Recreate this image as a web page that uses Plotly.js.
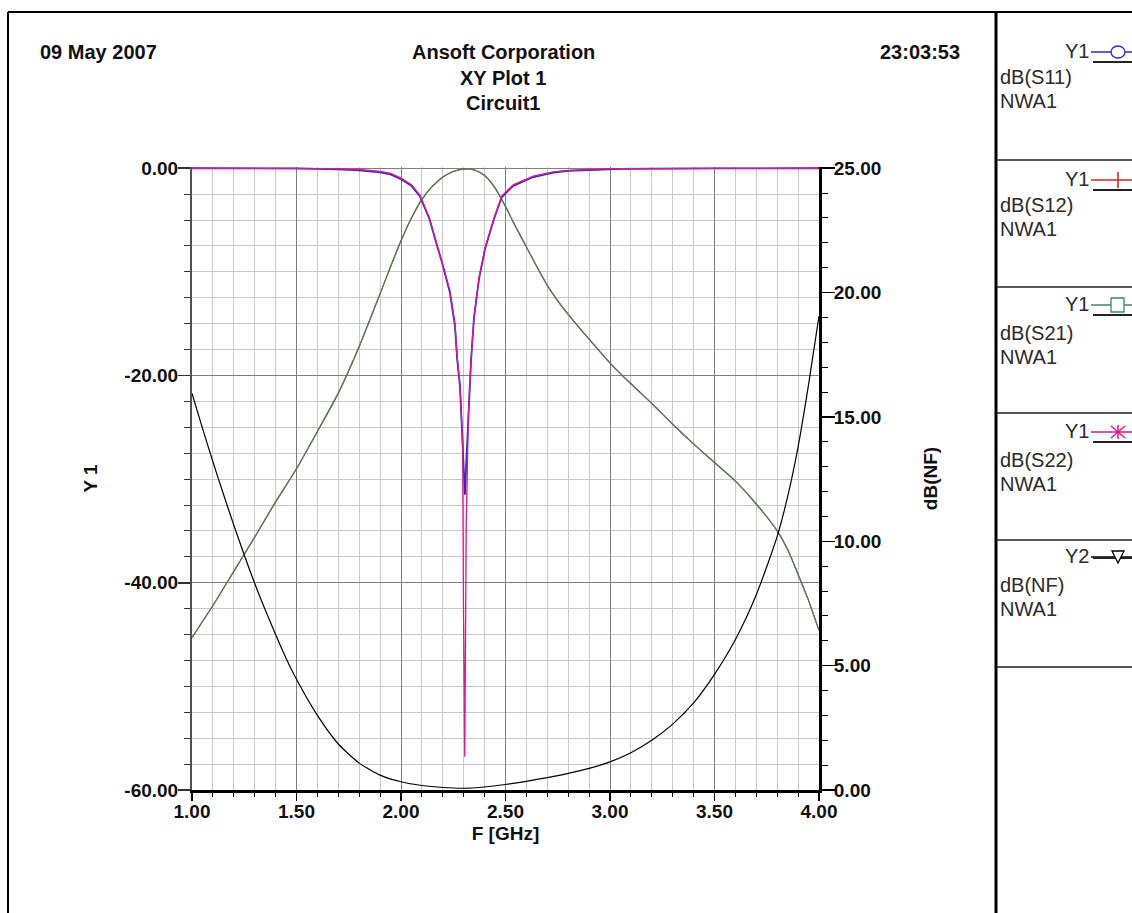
<!DOCTYPE html>
<html>
<head>
<meta charset="utf-8">
<script src="https://cdn.plot.ly/plotly-3.0.1.min.js"></script>
<style>
  html, body { margin: 0; padding: 0; background: #ffffff; }
  #chart { width: 1132px; height: 913px; }
</style>
</head>
<body>
<div id="chart"></div>
<script>
// ---- Sweep data (frequency in GHz) ----
// dB(S22), left axis Y1
const freqS22 = [1.00, 1.50, 1.70, 1.80, 1.90, 1.95, 2.00, 2.05, 2.09, 2.136, 2.167, 2.195, 2.234, 2.258, 2.269, 2.282, 2.290, 2.295, 2.299, 2.305, 2.312, 2.317, 2.322, 2.335, 2.349, 2.373, 2.402, 2.445, 2.482, 2.537, 2.633, 2.729, 2.80, 2.90, 3.00, 3.50, 4.00];
const dbS22   = [0, -0.01, -0.05, -0.12, -0.30, -0.50, -0.95, -1.6, -2.6, -4.8, -7.0, -8.9, -11.8, -15.0, -18.3, -20.8, -24.0, -26.6, -42.4, -56.8, -34.7, -28.5, -24.0, -18.5, -14.4, -10.6, -7.7, -4.8, -2.7, -1.6, -0.77, -0.36, -0.20, -0.10, -0.05, -0.01, 0];

// dB(S11), left axis Y1
const freqS11 = [1.00, 1.50, 1.70, 1.80, 1.90, 1.95, 2.00, 2.05, 2.09, 2.136, 2.167, 2.195, 2.234, 2.258, 2.269, 2.282, 2.290, 2.296, 2.301, 2.306, 2.311, 2.316, 2.322, 2.335, 2.349, 2.373, 2.402, 2.445, 2.482, 2.537, 2.633, 2.729, 2.80, 2.90, 3.00, 3.06, 3.50, 4.00];
const dbS11   = [0, -0.01, -0.10, -0.20, -0.40, -0.60, -1.05, -1.7, -2.7, -4.9, -7.1, -9.0, -12.0, -15.2, -18.5, -21.0, -24.5, -27.0, -29.5, -31.5, -29.0, -26.5, -24.0, -18.6, -14.5, -10.7, -7.8, -4.9, -2.8, -1.7, -0.85, -0.42, -0.25, -0.15, -0.10, -0.06, -0.01, 0];

// dB(S21), left axis Y1
const freqS21 = [1.00, 1.10, 1.20, 1.30, 1.40, 1.50, 1.60, 1.70, 1.80, 1.90, 1.95, 2.00, 2.05, 2.10, 2.15, 2.20, 2.25, 2.30, 2.35, 2.40, 2.45, 2.50, 2.55, 2.60, 2.65, 2.70, 2.75, 2.80, 2.90, 3.00, 3.10, 3.20, 3.30, 3.40, 3.50, 3.60, 3.70, 3.80, 3.85, 3.90, 3.95, 4.00];
const dbS21   = [-45.3, -42.2, -38.9, -35.6, -32.2, -29.0, -25.4, -21.7, -17.2, -12.1, -9.5, -7.0, -4.8, -3.0, -1.75, -0.85, -0.32, -0.08, -0.15, -0.7, -1.9, -3.7, -5.7, -7.6, -9.5, -11.3, -12.8, -14.1, -16.5, -18.8, -20.8, -22.7, -24.7, -26.6, -28.4, -30.2, -32.4, -35.0, -36.8, -39.2, -41.7, -44.6];

// dB(S12), left axis Y1 (reciprocal network: same as S21)
const freqS12 = freqS21.slice();
const dbS12   = dbS21.slice();

// dB(NF), right axis Y2
const freqNF = [1.00, 1.05, 1.10, 1.15, 1.20, 1.25, 1.30, 1.35, 1.40, 1.45, 1.50, 1.60, 1.70, 1.80, 1.90, 2.00, 2.10, 2.20, 2.30, 2.40, 2.50, 2.60, 2.70, 2.80, 2.90, 3.00, 3.10, 3.20, 3.30, 3.40, 3.50, 3.60, 3.70, 3.80, 3.85, 3.90, 3.95, 4.00];
const dbNF   = [15.95, 14.55, 13.2, 11.9, 10.65, 9.45, 8.3, 7.25, 6.25, 5.3, 4.45, 3.0, 1.85, 1.08, 0.6, 0.33, 0.18, 0.10, 0.07, 0.12, 0.22, 0.35, 0.50, 0.67, 0.87, 1.13, 1.50, 2.00, 2.65, 3.50, 4.65, 6.05, 7.85, 10.2, 11.8, 13.8, 16.3, 19.06];

// ---- Axis ticks ----
const y1TickVals = [0, -20, -40, -60];
const y1TickText = ['0.00', '-20.00', '-40.00', '-60.00'];

// ---- Header and legend text ----
const headerDate = '09 May 2007';
const headerTime = '23:03:53';
const titleLines = ['Ansoft Corporation', 'XY Plot 1', 'Circuit1'];
const legendAxes   = ['Y1', 'Y1', 'Y1', 'Y1', 'Y2'];
const legendNames  = ['dB(S11)', 'dB(S12)', 'dB(S21)', 'dB(S22)', 'dB(NF)'];
const legendSource = ['NWA1', 'NWA1', 'NWA1', 'NWA1', 'NWA1'];

// ---- Styling ----
const COLORS = {
  s11: '#2a2ad0',
  s12: '#d42020',
  s21: '#3d8a5c',
  s22: '#e0158a',
  nf:  '#000000'
};
const FONT = 'Liberation Sans, Arial, Helvetica, sans-serif';

// plot-area pixel box, used to place page furniture in paper coordinates
const PL = 192, PR = 819, PT = 167, PB = 790;
const fx = x => (x - PL) / (PR - PL);
const fy = y => (PB - y) / (PB - PT);

const traces = [
  { name: 'dB(S12)', x: freqS12, y: dbS12, mode: 'lines', line: { color: COLORS.s12, width: 1.2, shape: 'spline', smoothing: 0.6 }, yaxis: 'y' },
  { name: 'dB(S21)', x: freqS21, y: dbS21, mode: 'lines', line: { color: COLORS.s21, width: 1.2, shape: 'spline', smoothing: 0.6 }, yaxis: 'y' },
  { name: 'dB(S11)', x: freqS11, y: dbS11, mode: 'lines', line: { color: COLORS.s11, width: 1.8 }, yaxis: 'y' },
  { name: 'dB(S22)', x: freqS22, y: dbS22, mode: 'lines', line: { color: COLORS.s22, width: 1.3 }, yaxis: 'y' },
  { name: 'dB(NF)',  x: freqNF,  y: dbNF,  mode: 'lines', line: { color: COLORS.nf,  width: 1.2, shape: 'spline', smoothing: 0.6 }, yaxis: 'y2' }
];

const tickFont = { family: FONT, size: 19, color: '#111', weight: 'bold' };
const titleFont = { family: FONT, size: 19, color: '#111', weight: 'bold' };

// ---- Page furniture: frame, legend panel ----
const shapes = [];
const annotations = [];
const hline = (x0, x1, y, w, c) => shapes.push({ type: 'line', xref: 'paper', yref: 'paper', x0: fx(x0), x1: fx(x1), y0: fy(y), y1: fy(y), line: { color: c, width: w } });
const vline = (x, y0, y1, w, c) => shapes.push({ type: 'line', xref: 'paper', yref: 'paper', x0: fx(x), x1: fx(x), y0: fy(y0), y1: fy(y1), line: { color: c, width: w } });

hline(8, 1132, 12, 2, '#000');
vline(8, 12, 913, 2, '#000');
vline(996, 12, 913, 3, '#000');
[160, 287, 413, 540, 667].forEach(y => hline(997, 1132, y, 1.5, '#222'));

// legend rows: sample line y, axis label, name and source lines
const rowSample = [52, 180, 305, 432, 557];
const rowName   = [77, 205, 333, 460, 585];
const rowSrc    = [101, 229, 357, 484, 609];
const legendColors = [COLORS.s11, COLORS.s12, COLORS.s21, COLORS.s22, COLORS.nf];
const legendFont = { family: FONT, size: 20, color: '#2a2a2a' };

for (let i = 0; i < legendNames.length; i++) {
  const ys = rowSample[i];
  const c = legendColors[i];
  annotations.push({ xref: 'paper', yref: 'paper', x: fx(1091), y: fy(ys - 1), xanchor: 'right', yanchor: 'middle', text: legendAxes[i], showarrow: false, font: legendFont });
  annotations.push({ xref: 'paper', yref: 'paper', x: fx(998), y: fy(rowName[i]), xanchor: 'left', yanchor: 'middle', text: legendNames[i], showarrow: false, font: legendFont });
  annotations.push({ xref: 'paper', yref: 'paper', x: fx(998), y: fy(rowSrc[i]), xanchor: 'left', yanchor: 'middle', text: legendSource[i], showarrow: false, font: legendFont });
  // sample line and underline
  hline(1091, 1132, ys, 1.5, c);
  hline(1093, 1132, i === 4 ? ys + 1 : ys + 10, 2, '#222');
  const mx = 1118;
  if (i === 0) {
    shapes.push({ type: 'circle', xref: 'paper', yref: 'paper', x0: fx(mx - 7), x1: fx(mx + 7), y0: fy(ys - 6), y1: fy(ys + 6), fillcolor: '#fff', line: { color: c, width: 1.3 } });
  } else if (i === 1) {
    vline(mx, ys - 8, ys + 8, 1.5, c);
  } else if (i === 2) {
    shapes.push({ type: 'rect', xref: 'paper', yref: 'paper', x0: fx(mx - 7), x1: fx(mx + 6), y0: fy(ys - 7), y1: fy(ys + 7), fillcolor: '#fff', line: { color: c, width: 1.3 } });
  } else if (i === 3) {
    vline(mx, ys - 7, ys + 7, 1.5, c);
    shapes.push({ type: 'line', xref: 'paper', yref: 'paper', x0: fx(mx - 7), x1: fx(mx + 7), y0: fy(ys - 6), y1: fy(ys + 6), line: { color: c, width: 1.5 } });
    shapes.push({ type: 'line', xref: 'paper', yref: 'paper', x0: fx(mx - 7), x1: fx(mx + 7), y0: fy(ys + 6), y1: fy(ys - 6), line: { color: c, width: 1.5 } });
  } else {
    const p = `M ${fx(mx - 6)} ${fy(ys - 6)} L ${fx(mx + 6)} ${fy(ys - 6)} L ${fx(mx)} ${fy(ys + 6)} Z`;
    shapes.push({ type: 'path', xref: 'paper', yref: 'paper', path: p, fillcolor: '#fff', line: { color: c, width: 1.3 } });
  }
}

// ---- Header ----
const headFont = { family: FONT, size: 20, color: '#111', weight: 'bold' };
annotations.push({ xref: 'paper', yref: 'paper', x: fx(38), y: fy(52), xanchor: 'left', yanchor: 'middle', text: headerDate, showarrow: false, font: headFont });
annotations.push({ xref: 'paper', yref: 'paper', x: fx(962), y: fy(52), xanchor: 'right', yanchor: 'middle', text: headerTime, showarrow: false, font: headFont });
const titleY = [52, 78, 103];
titleLines.forEach((t, k) => annotations.push({ xref: 'paper', yref: 'paper', x: fx(503), y: fy(titleY[k]), xanchor: 'center', yanchor: 'middle', text: t, showarrow: false, font: headFont }));

const layout = {
  width: 1132,
  height: 913,
  margin: { l: PL, r: 1132 - PR, t: PT, b: 913 - PB, pad: 0 },
  paper_bgcolor: '#ffffff',
  plot_bgcolor: '#ffffff',
  showlegend: false,
  font: { family: FONT },
  xaxis: {
    range: [1, 4],
    tick0: 1, dtick: 0.5, tickformat: '.2f',
    ticks: 'outside', ticklen: 8, tickwidth: 1.5, tickcolor: '#000',
    showline: true, linecolor: '#000', linewidth: 3,
    showgrid: true, gridcolor: '#808080', gridwidth: 1,
    zeroline: false,
    minor: { dtick: 0.1, ticks: 'outside', ticklen: 4, tickwidth: 1, tickcolor: '#000', showgrid: true, gridcolor: '#c8c8c8', gridwidth: 1 },
    tickfont: tickFont,
    ticklabelstandoff: -6,
    title: { text: 'F [GHz]', font: titleFont, standoff: 6 }
  },
  yaxis: {
    range: [-60, 0.12],
    tickmode: 'array', tickvals: y1TickVals, ticktext: y1TickText,
    ticks: 'outside', ticklen: 12, tickwidth: 1.5, tickcolor: '#333',
    showline: true, linecolor: '#505050', linewidth: 2,
    showgrid: true, gridcolor: '#808080', gridwidth: 1,
    zeroline: false,
    minor: { tickmode: 'linear', tick0: 0, dtick: 2.5, ticks: 'outside', ticklen: 6, tickwidth: 1, tickcolor: '#333', showgrid: true, gridcolor: '#c8c8c8', gridwidth: 1 },
    tickfont: tickFont,
    ticklabelstandoff: -4,
    title: { text: 'Y 1', font: titleFont, standoff: 22 }
  },
  yaxis2: {
    overlaying: 'y', side: 'right',
    range: [0, 25.05],
    tick0: 0, dtick: 5, tickformat: '.2f',
    ticks: 'outside', ticklen: 13, tickwidth: 1.5, tickcolor: '#000',
    showline: true, linecolor: '#000', linewidth: 3,
    showgrid: false, zeroline: false,
    minor: { dtick: 1, ticks: 'outside', ticklen: 6, tickwidth: 1, tickcolor: '#000', showgrid: false },
    tickfont: tickFont,
    ticklabelstandoff: -5,
    title: { text: 'dB(NF)', font: titleFont, standoff: 44 }
  },
  shapes: shapes,
  annotations: annotations
};

Plotly.newPlot('chart', traces, layout, { staticPlot: true, displayModeBar: false });
</script>
</body>
</html>
